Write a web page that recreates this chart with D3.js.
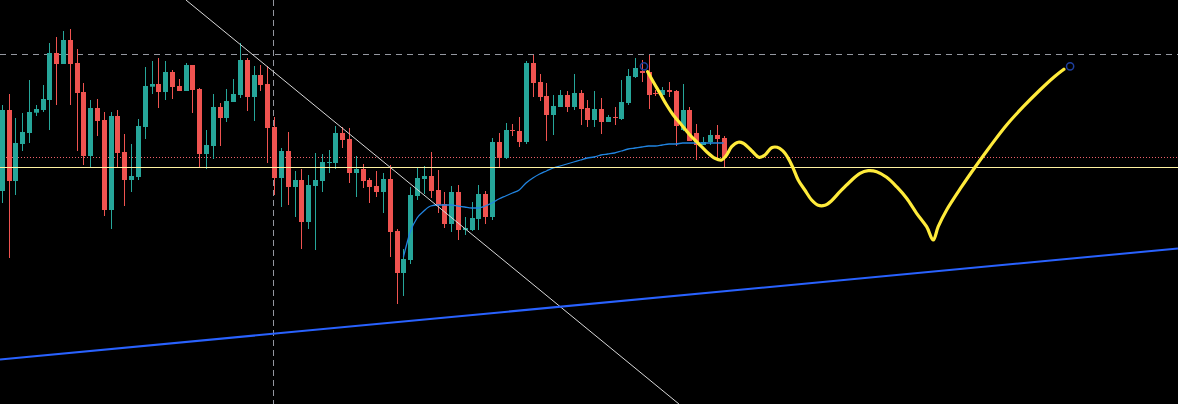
<!DOCTYPE html>
<html>
<head>
<meta charset="utf-8">
<script src="https://cdn.jsdelivr.net/npm/d3@7"></script>
<style>
html,body{margin:0;padding:0;background:#000;overflow:hidden;}
svg{display:block;}
</style>
</head>
<body>
<svg id="chart" width="1178" height="404"></svg>
<script>
// ---- data (price units, bar index) ----
const opens  = [309,390,319,356,367,387.3,390,400,447,436,460,437,408,344,392,380,290,384,348,320,323,373,413.3,416,408,428,414,409,435,411,346,354,393,382,398,405,440,403,425,416,373,322,349,313,320,278,314,319,337.3,337,367,361,327,331,320,314,308,321,269,227,240,304,321,324,310,296,276,308,270,270,281,306,283,358,342,370,369,358,437,418,404,385,393,405,393,407,392,380,391,378,383,381,397,423,429,428,407,405,410,409,370,390,367,355,358,365,362];
const highs  = [395,406,382,387,420,395,415,457,463,469,471,451,417,400,401,388,388,390,366,356,381,433,439,442,439,430,421,437,435,412,370,406,397,411,421,457,442,434,435,434,383,352,368,329,331,325,347,346,350,374,373,372,344,336,322,329,327,335,271,251,313,332,334,348,330,308,314,315,283,298,315,309,362,367,377,376,383,439,445,426,417,405,410,409,426,410,400,409,402,385,393,420,431,442,440,445,410,413,418,410,416,393,376,363,370,375,364];
const lows   = [297,242,305,349,357,384,388,370,395,436,395,349,335,332,364,284,271,332,294,308,320,361,406,392,400,401,409,409,387,333,331,341,354,378,398,402,389,379,409,337,305,293,295,283,251,271,250,308,327,331,352,317,303,312,297,303,287,243,196,204,236,300,306,302,287,272,268,260,265,269,270,276,280,333,341,364,353,356,403,399,359,365,393,388,390,375,373,373,366,378,375,380,395,422,418,391,404,403,403,354,369,359,340,355,355,342,332];
const closes = [390,319,357,368,388,391,401,447,436,460,436,407,344,392,379,290,384,347,320,324,374,414,416,408,428,413,409,435,410,346,355,393,382,399,406,440,403,425,415,372,322,349,313,320,278,315,320,338,338,367,360,327,331,319,313,308,321,268,227,241,305,322,324,309,295,276,308,270,272,282,306,283,358,342,370,369.3,358,437,417,403,385,394,405,393,407,391,380,391,378,383,382.3,398,424,432,427,405,406,410,408,374,390,359,355,358,365,361,342];

// moving average, starting at bar 59
const maStart = 59;
const maValues = [243,268,282,289,294,295,295,295,294,293,292,292,294,297,301,304,307,310,317,322,326,329,332,334,336,338,340,342,343,345,346,347,349,351,352,353,354,354,355,356,356,357,357,357,357,357,357,357];

// horizontal levels
const levelDashed = 445.7;
const levelDotted = 342.7;
const levelSolid  = 332.7;
// vertical crosshair (bar index)
const crossBar = 39.9;

// drawings: [bar index, price]
const whiteTrend = [[27.06,500],[99.46,96]];
const blueTrend  = [[-0.25,140.5],[172.73,251.5]];
const yellowIdx   = [94.86,95.68,96.67,97.65,98.62,99.85,101.07,102.29,103.52,104.74,105.73,106.46,107.2,108.16,108.9,110.13,111.25,112.08,113.07,113.89,114.68,115.51,116.24,116.97,117.94,118.94,119.91,120.89,121.87,123.1,124.57,126.04,127.25,128.49,129.96,131.42,132.89,134.36,135.83,136.8,137.53,138.77,140.97,143.17,145.12,147.58,150.02,152.47,154.42,155.99];
const yellowPrice = [428.3,418.3,406.7,395,385,375,365,356.7,348.3,341.7,340,345,353.3,357.7,356.7,349.3,342.7,345,352.3,352.7,349.3,341.7,331.7,320,310,300,294.7,294.7,299.3,308.3,318.3,326.7,329.3,328.3,322.7,313.3,301.7,286.7,273.3,260,273.3,290,313.3,335,353.3,375,393.3,410,422.3,430.7];
const anchors = [[94.32,433.7],[156.9,433.7]];

// ---- scales ----
const W = 1178, H = 404;
const svg = d3.select("#chart");
const x = d3.scaleLinear().domain([0, 106]).range([1.7, 723.5]);
const y = d3.scaleLinear().domain([500, 96]).range([0, H]);

svg.append("rect").attr("width", W).attr("height", H).attr("fill", "#000");

const candles = opens.map((o, i) => ({i, o, h: highs[i], l: lows[i], c: closes[i]}));

// levels
svg.append("line").attr("x1", 0).attr("x2", W)
  .attr("y1", Math.round(y(levelDashed)) + 0.5).attr("y2", Math.round(y(levelDashed)) + 0.5)
  .attr("stroke", "#9598a1").attr("stroke-width", 1).attr("stroke-dasharray", "6,5");
svg.append("line").attr("x1", 0).attr("x2", W)
  .attr("y1", Math.round(y(levelDotted)) + 0.5).attr("y2", Math.round(y(levelDotted)) + 0.5)
  .attr("stroke", "#f0606a").attr("stroke-width", 1).attr("stroke-dasharray", "1,2");

// vertical crosshair
svg.append("line")
  .attr("x1", Math.round(x(crossBar)) + 0.5).attr("x2", Math.round(x(crossBar)) + 0.5)
  .attr("y1", 0).attr("y2", H)
  .attr("stroke", "#9598a1").attr("stroke-width", 1).attr("stroke-dasharray", "6,4");

// candles
const up = "#26a69a", down = "#ef5350";
const g = svg.append("g");
g.selectAll("line.wick").data(candles).join("line")
  .attr("class", "wick")
  .attr("x1", d => Math.round(x(d.i)) + 0.5).attr("x2", d => Math.round(x(d.i)) + 0.5)
  .attr("y1", d => y(d.h)).attr("y2", d => y(d.l))
  .attr("stroke", d => d.c >= d.o ? up : down).attr("stroke-width", 1);
g.selectAll("rect.body").data(candles).join("rect")
  .attr("class", "body")
  .attr("x", d => Math.round(x(d.i)) - 2)
  .attr("width", 5)
  .attr("y", d => y(Math.max(d.o, d.c)))
  .attr("height", d => Math.max(1, Math.abs(y(d.o) - y(d.c))))
  .attr("fill", d => d.c >= d.o ? up : down);

// moving average
const maPts = maValues.map((v, k) => [maStart + k, v]);
svg.append("path").datum(maPts)
  .attr("d", d3.line().x(d => x(d[0])).y(d => y(d[1])).curve(d3.curveMonotoneX))
  .attr("fill", "none").attr("stroke", "#2184e0").attr("stroke-width", 1.3);

// solid level (drawn over candles)
svg.append("line").attr("x1", 0).attr("x2", W)
  .attr("y1", Math.round(y(levelSolid)) + 0.5).attr("y2", Math.round(y(levelSolid)) + 0.5)
  .attr("stroke", "#fff3a0").attr("stroke-width", 1);

// trend lines
const lineGen = d3.line().x(d => x(d[0])).y(d => y(d[1]));
svg.append("path").datum(whiteTrend).attr("d", lineGen)
  .attr("stroke", "#d8d8d8").attr("stroke-width", 1).attr("fill", "none");
svg.append("path").datum(blueTrend).attr("d", lineGen)
  .attr("stroke", "#2962ff").attr("stroke-width", 2).attr("fill", "none");

// freehand yellow path
const yPts = yellowIdx.map((v, k) => [v, yellowPrice[k]]);
svg.append("path").datum(yPts)
  .attr("d", d3.line().x(d => x(d[0])).y(d => y(d[1])).curve(d3.curveCatmullRom.alpha(0.5)))
  .attr("fill", "none").attr("stroke", "#ffeb3b").attr("stroke-width", 3.2)
  .attr("stroke-linecap", "round").attr("stroke-linejoin", "round");

// anchors
svg.selectAll("circle.anchor").data(anchors).join("circle")
  .attr("class", "anchor")
  .attr("cx", d => x(d[0])).attr("cy", d => y(d[1])).attr("r", 3.6)
  .attr("fill", "none").attr("stroke", "#1e3f9e").attr("stroke-width", 1.5);
</script>
</body>
</html>
